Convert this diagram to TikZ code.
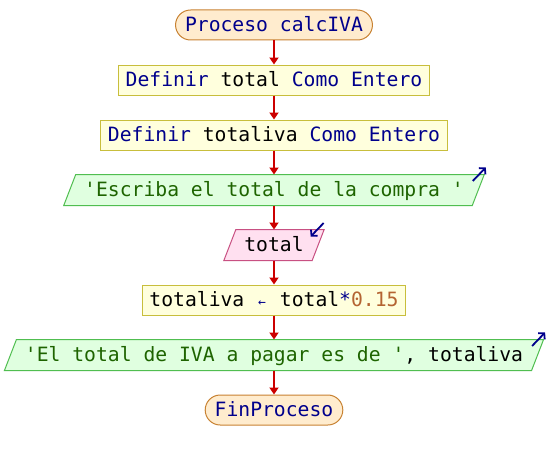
\documentclass[tikz,border=0pt]{standalone}
\usepackage{fontspec}
\setmonofont{DejaVu Sans Mono}
\usetikzlibrary{arrows.meta,backgrounds}

\definecolor{kwcol}{RGB}{0,0,140}
\definecolor{cadcol}{RGB}{30,100,0}
\definecolor{numcol}{RGB}{180,100,50}
\definecolor{flowred}{RGB}{204,0,0}
\definecolor{termfill}{RGB}{255,236,206}
\definecolor{termdraw}{RGB}{200,130,50}
\definecolor{procfill}{RGB}{255,255,221}
\definecolor{procdraw}{RGB}{200,190,60}
\definecolor{outfill}{RGB}{224,255,224}
\definecolor{outdraw}{RGB}{80,190,80}
\definecolor{infill}{RGB}{255,224,240}
\definecolor{indraw}{RGB}{200,80,130}

\newcommand{\kw}[1]{\textcolor{kwcol}{#1}}
\newcommand{\cad}[1]{\textcolor{cadcol}{#1}}
\newcommand{\asig}{\makebox[11.86pt]{\fontsize{13}{13}\selectfont\textcolor{kwcol}{←}}}

\begin{document}
\begin{tikzpicture}[x=1pt, y=-1pt,
  base/.style={font=\ttfamily\fontsize{19.7}{22}\selectfont, minimum height=30pt,
    inner ysep=0pt, text height=15pt, text depth=2pt, line width=1pt},
  term/.style={base, draw=termdraw, fill=termfill, rounded corners=15pt, inner xsep=9.5pt},
  proc/.style={base, draw=procdraw, fill=procfill, inner xsep=7pt},
  io/.style={base, inner xsep=14pt},
  flow/.style={draw=flowred, line width=2pt, -{Triangle[width=9pt,length=7pt]}},
  icon/.style={draw=kwcol, line width=1.8pt, -{Straight Barb[length=4pt,width=9pt]}}]
\def\cx{274}
\useasboundingbox (0,0) rectangle (548,460);

\node[term] (start) at (\cx, 25) {\kw{Proceso calcIVA}};
\node[proc] (def1) at (\cx, 80) {\kw{Definir} total \kw{Como Entero}};
\node[proc] (def2) at (\cx, 135) {\kw{Definir} totaliva \kw{Como Entero}};
\node[io] (out1) at (\cx, 190) {\cad{'Escriba el total de la compra '}};
\node[io] (read) at (\cx, 245) {total};
\node[proc] (calc) at (\cx, 300) {totaliva \asig{} total\kw{*}\textcolor{numcol}{0.15}};
\node[io] (out2) at (\cx, 355) {\cad{'El total de IVA a pagar es de '}, totaliva};
\node[term] (finish) at (\cx, 410) {\kw{FinProceso}};

% parallelograms behind the text
\begin{scope}[on background layer]
\fill[white] (0,0) rectangle (548,460);
\foreach \n/\f/\d in {out1/outfill/outdraw, read/infill/indraw, out2/outfill/outdraw}
  \draw[line width=1pt, draw=\d, fill=\f] ([xshift=6pt]\n.north west) -- ([xshift=6pt]\n.north east)
    -- ([xshift=-6pt]\n.south east) -- ([xshift=-6pt]\n.south west) -- cycle;
\end{scope}

\draw[flow] (start) -- (def1);
\draw[flow] (def1) -- (def2);
\draw[flow] (def2) -- (out1);
\draw[flow] (out1) -- (read);
\draw[flow] (read) -- (calc);
\draw[flow] (calc) -- (out2);
\draw[flow] (out2) -- (finish);

\draw[icon] ([shift={(-5.5,6.5)}]out1.north east) -- ([shift={(7.5,-7)}]out1.north east);
\draw[icon] ([shift={(5.5,-6.5)}]read.north east) -- ([shift={(-7.5,7)}]read.north east);
\draw[icon] ([shift={(-5.5,6.5)}]out2.north east) -- ([shift={(7.5,-7)}]out2.north east);
\end{tikzpicture}
\end{document}
